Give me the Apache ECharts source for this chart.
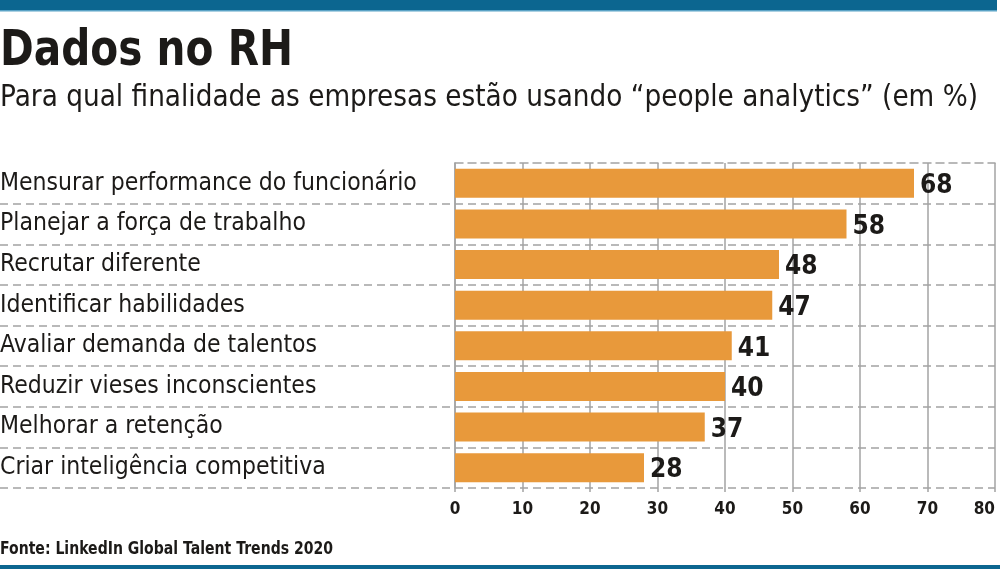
<!DOCTYPE html>
<html>
<head>
<meta charset="utf-8">
<script src="https://cdn.jsdelivr.net/npm/echarts@6/dist/echarts.min.js"></script>
<style>
  html, body { margin: 0; padding: 0; background: #fff; }
  #chart { width: 1000px; height: 569px; }
</style>
</head>
<body>
<div id="chart"></div>
<script>
// dados do gráfico
const categories = [
  'Mensurar performance do funcionário',
  'Planejar a força de trabalho',
  'Recrutar diferente',
  'Identificar habilidades',
  'Avaliar demanda de talentos',
  'Reduzir vieses inconscientes',
  'Melhorar a retenção',
  'Criar inteligência competitiva'
];
const values = [68, 58, 48, 47, 41, 40, 37, 28];
const xTicks = [0, 10, 20, 30, 40, 50, 60, 70, 80];

const titleText = 'Dados no RH';
const subtitleText = 'Para qual finalidade as empresas estão usando “people analytics” (em %)';
const sourceText = 'Fonte: LinkedIn Global Talent Trends 2020';

const ink = '#1c1a18';
const gridGray = '#a3a3a3';
const dash = [8, 5];

// mede o texto pra comprimir na largura do original
const ctx = document.createElement('canvas').getContext('2d');
function fitScale(font, text, width) {
  ctx.font = font;
  return width / ctx.measureText(text).width;
}
const titleFont = 'bold 50px "DejaVu Sans"';
const subFont = '30px "DejaVu Sans"';
const srcFont = 'bold 18px "DejaVu Sans"';

const chart = echarts.init(document.getElementById('chart'), null, { renderer: 'canvas' });

const option = {
  animation: false,
  backgroundColor: '#fff',
  grid: [
    { left: 455, right: 5, top: 163, height: 325, outerBoundsMode: 'none' },  // barras
    { left: 0, right: 5, top: 163, height: 325, outerBoundsMode: 'none' }     // linhas tracejadas da esquerda
  ],
  xAxis: [
    {
      gridIndex: 0,
      type: 'value',
      min: xTicks[0],
      max: xTicks[xTicks.length - 1],
      interval: xTicks[1] - xTicks[0],
      axisLine: { show: false },
      axisTick: { show: true, length: 4, lineStyle: { color: gridGray, width: 1.5 } },
      axisLabel: {
        margin: 13,
        fontSize: 17,
        fontWeight: 'bold',
        fontFamily: '"DejaVu Sans Condensed"',
        color: ink,
        alignMaxLabel: 'right'
      },
      splitLine: { show: true, lineStyle: { color: gridGray, width: 1.5 } }
    },
    {
      // linha tracejada do topo
      gridIndex: 0,
      type: 'value',
      position: 'top',
      min: xTicks[0],
      max: xTicks[xTicks.length - 1],
      axisLine: { show: true, lineStyle: { color: gridGray, width: 1.5, type: dash } },
      axisTick: { show: false },
      axisLabel: { show: false },
      splitLine: { show: false }
    },
    { gridIndex: 1, type: 'value', show: false }
  ],
  yAxis: [
    {
      gridIndex: 0,
      type: 'category',
      inverse: true,
      data: categories,
      axisLine: { show: true, lineStyle: { color: gridGray, width: 1.5 } },
      axisTick: { show: false },
      axisLabel: {
        align: 'left',
        margin: 455,
        fontSize: 24.5,
        fontFamily: '"DejaVu Sans Condensed"',
        color: ink
      },
      splitLine: { show: false }
    },
    {
      gridIndex: 1,
      type: 'category',
      inverse: true,
      data: categories,
      axisLine: { show: false },
      axisTick: { show: false },
      axisLabel: { show: false },
      splitLine: {
        show: true,
        interval: 0,
        showMinLine: false,
        lineStyle: { color: gridGray, width: 1.5, type: dash }
      }
    }
  ],
  series: [
    {
      type: 'bar',
      xAxisIndex: 0,
      yAxisIndex: 0,
      data: values,
      barWidth: 29,
      itemStyle: { color: '#e8993b' },
      label: {
        show: true,
        position: 'right',
        distance: 6,
        offset: [0, 3],
        fontSize: 26,
        fontWeight: 'bold',
        fontFamily: '"DejaVu Sans Condensed"',
        color: ink
      },
      z: 3
    }
  ],
  graphic: [
    { type: 'rect', shape: { x: 0, y: 0, width: 997, height: 10 }, style: { fill: '#0c6690' } },
    { type: 'rect', shape: { x: 0, y: 10, width: 997, height: 1.5 }, style: { fill: '#5aa3c6' } },
    { type: 'rect', shape: { x: 0, y: 565, width: 1000, height: 4 }, style: { fill: '#0c6690' } },
    {
      type: 'text', x: 0, y: 52, scaleX: fitScale(titleFont, titleText, 293),
      style: { text: titleText, font: titleFont, fill: ink, textVerticalAlign: 'middle' }
    },
    {
      type: 'text', x: 0, y: 98, scaleX: fitScale(subFont, subtitleText, 978),
      style: { text: subtitleText, font: subFont, fill: ink, textVerticalAlign: 'middle' }
    },
    {
      type: 'text', x: 0, y: 549, scaleX: fitScale(srcFont, sourceText, 333),
      style: { text: sourceText, font: srcFont, fill: ink, textVerticalAlign: 'middle' }
    }
  ]
};

chart.setOption(option);
</script>
</body>
</html>
